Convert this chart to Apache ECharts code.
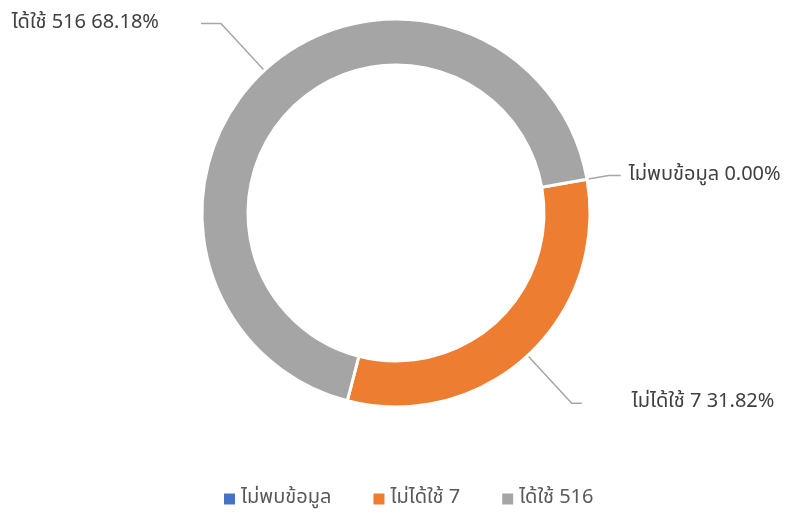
<!DOCTYPE html>
<html><head><meta charset="utf-8">
<script src="https://cdn.jsdelivr.net/npm/echarts@6/dist/echarts.min.js"></script>
<style>html,body{margin:0;padding:0;background:#fff}#c{width:785px;height:514px}</style>
</head><body><div id="c"></div>
<script>
const categories = ['ไม่พบข้อมูล', 'ไม่ได้ใช้ 7', 'ได้ใช้ 516'];
const values = [0, 7, 15];
const colors = ['#4472C4', '#ED7D31', '#A5A5A5'];

const FONT = '"Noto Sans Thai", "Noto Sans", Tahoma, sans-serif';
const lineCfg = [
  { length: 22, length2: 12, dist: 8 },
  { length: 65, length2: 10, dist: 50 },
  { length: 64, length2: 20, dist: 42 }
];
const chart = echarts.init(document.getElementById('c'));
chart.setOption({
  animation: false,
  legend: {
    bottom: 0, left: 217, itemWidth: 13, itemHeight: 13, itemGap: 40, icon: 'rect',
    textStyle: { fontFamily: FONT, fontSize: 20, color: '#595959' },
    data: categories
  },
  series: [{
    type: 'pie',
    center: [396, 213],
    radius: [148, 194],
    startAngle: 10,
    clockwise: true,
    itemStyle: { borderColor: '#fff', borderWidth: 3 },
    label: {
      show: true, overflow: 'none',
      fontFamily: FONT, fontSize: 20, color: '#404040',
      formatter: p => p.name + ' ' + p.percent.toFixed(2) + '%'
    },
    labelLine: { show: true, lineStyle: { color: '#A6A6A6', width: 1.5 } },
    data: categories.map((c, i) => ({
      name: c, value: values[i],
      itemStyle: { color: colors[i] },
      label: { distanceToLabelLine: lineCfg[i].dist },
      labelLine: { length: lineCfg[i].length, length2: lineCfg[i].length2 }
    }))
  }]
});
</script></body></html>
